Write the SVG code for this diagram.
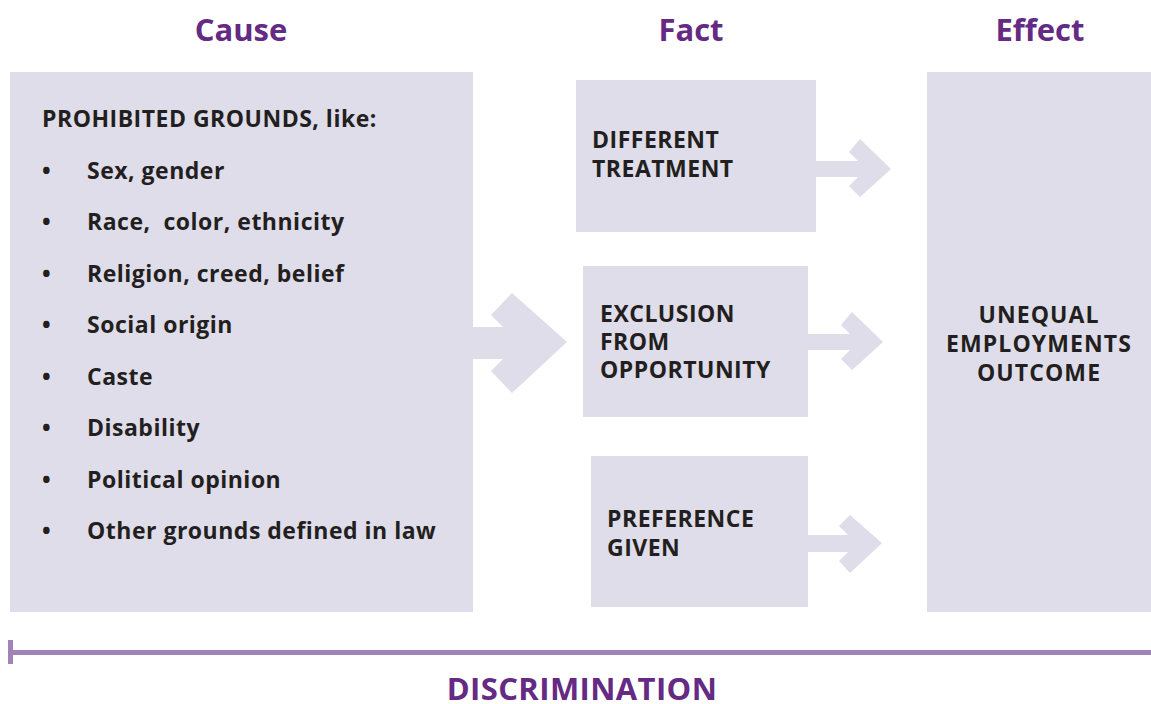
<svg xmlns="http://www.w3.org/2000/svg" width="1151" height="704" viewBox="0 0 1151 704">
  <style>
    .box { fill: #dfdde9; }
    .arrow { fill: #dfdde9; }
    .head { font-family: "Open Sans", "Liberation Sans", sans-serif; font-weight: 700; fill: #652a83; }
    .txt { font-family: "Open Sans", "Liberation Sans", sans-serif; font-weight: 700; font-size: 23px; letter-spacing: 0.5px; fill: #231f20; }
    .wide { letter-spacing: 1.1px; }
    .mid { text-anchor: middle; }
  </style>
  <rect width="1151" height="704" fill="#ffffff"/>

  <!-- Column headings -->
  <g id="headings">
    <text class="head mid" x="241" y="41" font-size="31">Cause</text>
    <text class="head mid" x="691" y="41" font-size="31">Fact</text>
    <text class="head mid" x="1040" y="41" font-size="31">Effect</text>
  </g>

  <!-- Cause -->
  <g id="cause">
    <rect class="box" x="10" y="72" width="463" height="540"/>
    <text class="txt" x="42" y="127">PROHIBITED GROUNDS, like:</text>
    <g>
      <text class="txt" x="42" y="179">•</text><text class="txt" x="87" y="179">Sex, gender</text>
      <text class="txt" x="42" y="230">•</text><text class="txt" x="87" y="230" xml:space="preserve">Race,  color, ethnicity</text>
      <text class="txt" x="42" y="282">•</text><text class="txt" x="87" y="282">Religion, creed, belief</text>
      <text class="txt" x="42" y="333">•</text><text class="txt" x="87" y="333">Social origin</text>
      <text class="txt" x="42" y="385">•</text><text class="txt" x="87" y="385">Caste</text>
      <text class="txt" x="42" y="436">•</text><text class="txt" x="87" y="436">Disability</text>
      <text class="txt" x="42" y="488">•</text><text class="txt" x="87" y="488">Political opinion</text>
      <text class="txt" x="42" y="539">•</text><text class="txt" x="87" y="539">Other grounds defined in law</text>
    </g>
  </g>

  <!-- Facts -->
  <g id="fact-different">
    <rect class="box" x="576" y="80" width="240" height="152"/>
    <text class="txt" x="592" y="148">DIFFERENT</text>
    <text class="txt" x="592" y="177">TREATMENT</text>
  </g>
  <g id="fact-exclusion">
    <rect class="box" x="583" y="266" width="225" height="151"/>
    <text class="txt" x="600" y="322">EXCLUSION</text>
    <text class="txt" x="600" y="350">FROM</text>
    <text class="txt" x="600" y="378">OPPORTUNITY</text>
  </g>
  <g id="fact-preference">
    <rect class="box" x="591" y="456" width="217" height="151"/>
    <text class="txt" x="607" y="527">PREFERENCE</text>
    <text class="txt" x="607" y="556">GIVEN</text>
  </g>

  <!-- Effect -->
  <g id="effect">
    <rect class="box" x="927" y="72" width="224" height="540"/>
    <text class="txt wide mid" x="1039" y="323">UNEQUAL</text>
    <text class="txt wide mid" x="1039" y="352">EMPLOYMENTS</text>
    <text class="txt wide mid" x="1039" y="381">OUTCOME</text>
  </g>

  <!-- Connectors -->
  <g id="connectors">
    <polygon class="arrow" points="472,327 503,327 491,315 512,293 567,342 512,393 491,371 503,359 472,359"/>
    <polygon class="arrow" points="815,161 858,161 849,152 860,139 891,169 860,197 849,186 858,177 815,177"/>
    <polygon class="arrow" points="807,334 850,334 841,325 852,312 883,342 852,370 841,359 850,350 807,350"/>
    <polygon class="arrow" points="807,535 848,535 839,526 850,515 882,543 850,573 839,561 848,552 807,552"/>
  </g>

  <!-- Discrimination span -->
  <g id="discrimination">
    <rect x="8" y="640" width="5" height="24" fill="#a084b8"/>
    <rect x="8" y="650" width="1143" height="5" fill="#a084b8"/>
    <text class="head mid" x="582" y="700" font-size="31" letter-spacing="0.4">DISCRIMINATION</text>
  </g>
</svg>
